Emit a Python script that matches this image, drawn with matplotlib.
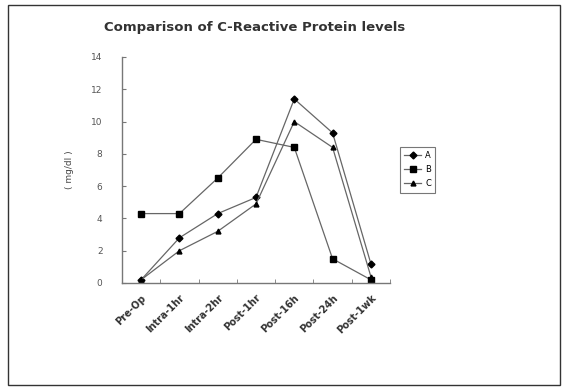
import matplotlib
matplotlib.use("Agg")
import matplotlib.pyplot as plt
from matplotlib.patches import Rectangle

# data
categories = ["Pre-Op", "Intra-1hr", "Intra-2hr", "Post-1hr", "Post-16h", "Post-24h", "Post-1wk"]
series_a = [0.2, 2.8, 4.3, 5.3, 11.4, 9.3, 1.2]
series_b = [4.3, 4.3, 6.5, 8.9, 8.4, 1.5, 0.2]
series_c = [0.2, 2.0, 3.2, 4.9, 10.0, 8.4, 0.4]
names = ["A", "B", "C"]
markers = ["D", "s", "^"]

fig = plt.figure(figsize=(5.67, 3.9), dpi=100)
W, H = 567, 390
ax = fig.add_axes([122 / W, 1 - 283 / H, (390 - 122) / W, (283 - 57) / H])

x = list(range(len(categories)))
for vals, name, m in zip([series_a, series_b, series_c], names, markers):
    ax.plot(x, vals, color="#666666", lw=0.9, marker=m, ms=3.5 if m != "s" else 4,
            mfc="black", mec="black", label=name)

ax.set_xlim(-0.5, len(categories) - 0.5)
ax.set_ylim(0, 14)
ax.set_yticks(range(0, 15, 2))
ax.set_xticks([i + 0.5 for i in range(-1, len(categories))], minor=True)
ax.set_xticks(x)
ax.set_xticklabels(categories, rotation=45, ha="right", rotation_mode="anchor",
                   fontsize=7, color="#333333", fontweight="bold")
ax.tick_params(axis="x", which="major", length=0, pad=7)
ax.tick_params(axis="x", which="minor", length=3, direction="in", color="#777777")
ax.tick_params(axis="y", length=3, direction="in", labelsize=6.5, labelcolor="#555555",
               color="#777777", pad=14)
for side in ["top", "right"]:
    ax.spines[side].set_visible(False)
for side in ["left", "bottom"]:
    ax.spines[side].set_color("#777777")
    ax.spines[side].set_linewidth(1)
ax.set_ylabel("( mg/dl )", fontsize=6.5, color="#444444", labelpad=12)

fig.text(255 / W, 1 - 28 / H, "Comparison of C-Reactive Protein levels",
         ha="center", va="center", fontsize=9.5, fontweight="bold", color="#333333")

leg = ax.legend(loc="upper left", bbox_to_anchor=(396 / W, 1 - 143 / H),
                bbox_transform=fig.transFigure, fontsize=6, frameon=True,
                fancybox=False, edgecolor="#555555", handlelength=2.0,
                borderpad=0.5, labelspacing=0.6, handletextpad=0.5)
leg.get_frame().set_linewidth(0.8)

fig.patches.append(Rectangle((8 / W, 5 / H), (560 - 8) / W, (385 - 5) / H,
                             transform=fig.transFigure, fill=False,
                             edgecolor="#333333", lw=1))

fig.savefig("out.png", dpi=100)
